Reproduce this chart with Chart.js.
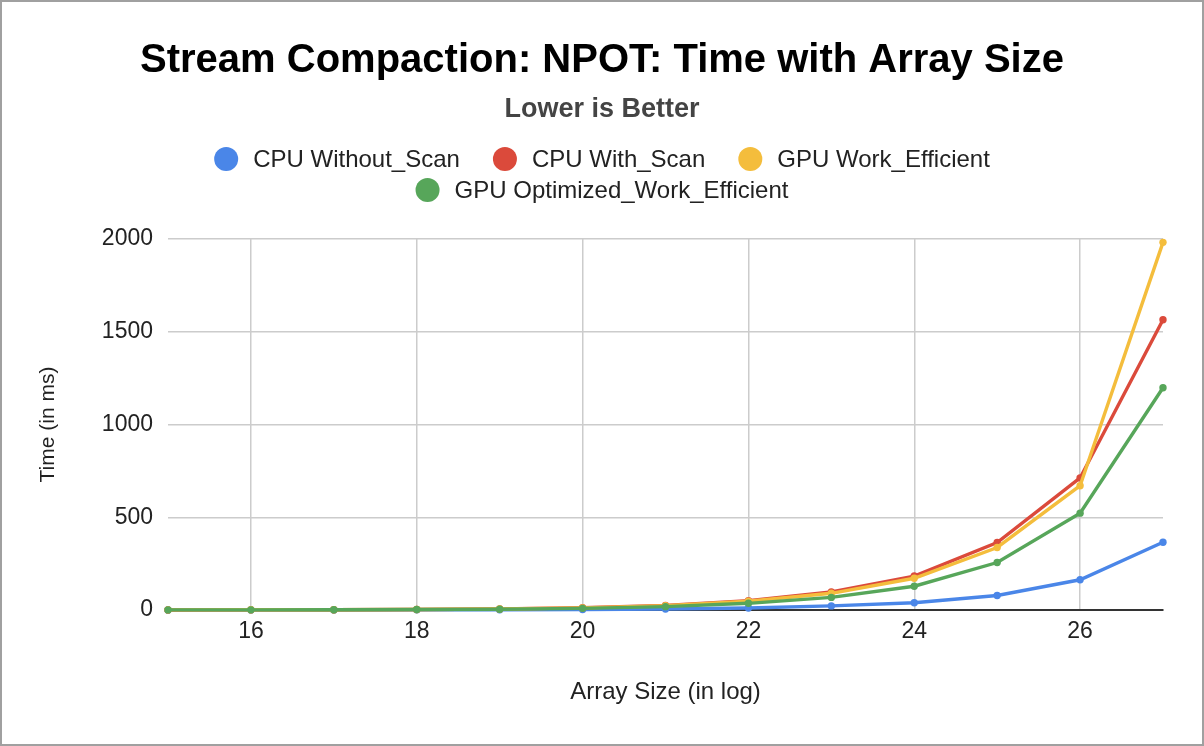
<!DOCTYPE html>
<html>
<head>
<meta charset="utf-8">
<script src="https://cdn.jsdelivr.net/npm/chart.js@4/dist/chart.umd.min.js"></script>
<style>
html,body{margin:0;padding:0;background:#fff;overflow:hidden}
canvas{display:block}
</style>
</head>
<body>
<canvas id="c" width="1204" height="746"></canvas>
<script>
// ---- data ----
const arraySizeLog = [15, 16, 17, 18, 19, 20, 21, 22, 23, 24, 25, 26, 27];
const cpuWithoutScan = [0.1, 0.2, 0.35, 0.7, 1.4, 2.8, 5.5, 11, 22, 39, 78, 163, 365];
const cpuWithScan = [0.35, 0.7, 1.4, 2.8, 5.7, 12, 24, 50, 97, 183, 364, 712, 1565];
const gpuWorkEfficient = [0.8, 1.0, 1.6, 2.9, 5.5, 11.5, 23, 47, 90, 171, 337, 670, 1982];
const gpuOptimizedWorkEfficient = [0.6, 0.8, 1.3, 2.3, 4.3, 9, 18, 36, 68, 128, 256, 522, 1198];
const seriesNames = ['CPU Without_Scan', 'CPU With_Scan', 'GPU Work_Efficient', 'GPU Optimized_Work_Efficient'];
const seriesColors = ['#4a86e8', '#db4a3b', '#f4bd3c', '#57a65a'];
const xTickValues = [16, 18, 20, 22, 24, 26];
const yTickValues = [0, 500, 1000, 1500, 2000];

const FONT = "'Liberation Sans', Arial, Helvetica, sans-serif";
Chart.defaults.font.family = FONT;
Chart.defaults.color = '#222';

const seriesValues = [cpuWithoutScan, cpuWithScan, gpuWorkEfficient, gpuOptimizedWorkEfficient];
const datasets = seriesValues.map((vals, i) => ({
  label: seriesNames[i],
  data: arraySizeLog.map((x, j) => ({x: x, y: vals[j]})),
  borderColor: seriesColors[i],
  backgroundColor: seriesColors[i],
  borderWidth: 3.4,
  pointRadius: 3.7,
  pointHoverRadius: 3.7,
  pointBorderWidth: 0,
  tension: 0,
  clip: false,
  order: seriesValues.length - i
}));

// frame + custom wrapped legend
const legendRows = [[0, 1, 2], [3]];
const framePlugin = {
  id: 'frame',
  beforeDraw(chart) {
    const c = chart.ctx;
    c.save();
    c.fillStyle = '#ffffff';
    c.fillRect(0, 0, chart.width, chart.height);
    c.restore();
  },
  afterDraw(chart) {
    const c = chart.ctx;
    c.save();
    c.font = '24px ' + FONT;
    c.textBaseline = 'middle';
    c.textAlign = 'left';
    const rowY = [159, 190];
    const r = 12, gapText = 15, gapItem = 33;
    legendRows.forEach((row, ri) => {
      const widths = row.map(i => 2 * r + gapText + c.measureText(chart.data.datasets[i].label).width);
      const total = widths.reduce((a, b) => a + b, 0) + gapItem * (row.length - 1);
      let x = chart.width / 2 - total / 2;
      row.forEach((i, k) => {
        const ds = chart.data.datasets[i];
        c.fillStyle = ds.borderColor;
        c.beginPath();
        c.arc(x + r, rowY[ri], r, 0, Math.PI * 2);
        c.fill();
        c.fillStyle = '#222';
        c.fillText(ds.label, x + 2 * r + gapText, rowY[ri] + 1);
        x += widths[k] + gapItem;
      });
    });
    c.strokeStyle = '#a0a0a0';
    c.lineWidth = 2;
    c.strokeRect(1, 1, chart.width - 2, chart.height - 2);
    c.restore();
  }
};

new Chart(document.getElementById('c'), {
  type: 'line',
  data: { datasets: datasets },
  plugins: [framePlugin],
  options: {
    responsive: false,
    animation: false,
    events: [],
    layout: { padding: { left: 0, right: 0, top: 0, bottom: 0 } },
    plugins: {
      legend: { display: false },
      tooltip: { enabled: false },
      title: {
        display: true,
        text: 'Stream Compaction: NPOT: Time with Array Size',
        color: '#000',
        font: { size: 40, weight: 'bold', lineHeight: 1.2 },
        padding: { top: 37, bottom: 0 }
      },
      subtitle: {
        display: true,
        text: 'Lower is Better',
        color: '#444',
        font: { size: 27, weight: 'bold', lineHeight: 1.2 },
        padding: { top: 8, bottom: 113.6 }
      }
    },
    scales: {
      x: {
        type: 'linear',
        min: 15,
        max: 27,
        afterBuildTicks(scale) { scale.ticks = xTickValues.map(v => ({value: v})); },
        afterFit(scale) { scale.height = 136; },
        ticks: { font: { size: 23 }, color: '#222', padding: 8, maxRotation: 0 },
        grid: { color: '#cccccc', lineWidth: 1.5, drawTicks: false },
        border: { display: true, color: '#333333', width: 2 },
        title: {
          display: true,
          text: 'Array Size (in log)',
          color: '#222',
          font: { size: 24, lineHeight: 1.2 },
          padding: { top: 0, bottom: 39 }
        }
      },
      y: {
        type: 'linear',
        min: 0,
        max: 2000,
        afterBuildTicks(scale) { scale.ticks = yTickValues.map(v => ({value: v})); },
        afterFit(scale) { scale.width = 168; },
        ticks: { font: { size: 23 }, color: '#222', padding: 15, callback: v => String(v) },
        grid: {
          color: ctx => (ctx.tick && ctx.tick.value === 0) ? '#333333' : '#cccccc',
          lineWidth: ctx => (ctx.tick && ctx.tick.value === 0) ? 2 : 1.5,
          drawTicks: false
        },
        border: { display: false },
        title: {
          display: true,
          text: 'Time (in ms)',
          color: '#222',
          font: { size: 21, lineHeight: 1.2 },
          padding: { top: 36, bottom: 0 }
        }
      },
      yRight: {
        type: 'linear',
        position: 'right',
        display: true,
        afterFit(scale) { scale.width = 41; },
        ticks: { display: false },
        grid: { display: false, drawTicks: false },
        border: { display: false },
        title: { display: false }
      }
    }
  }
});
</script>
</body>
</html>
